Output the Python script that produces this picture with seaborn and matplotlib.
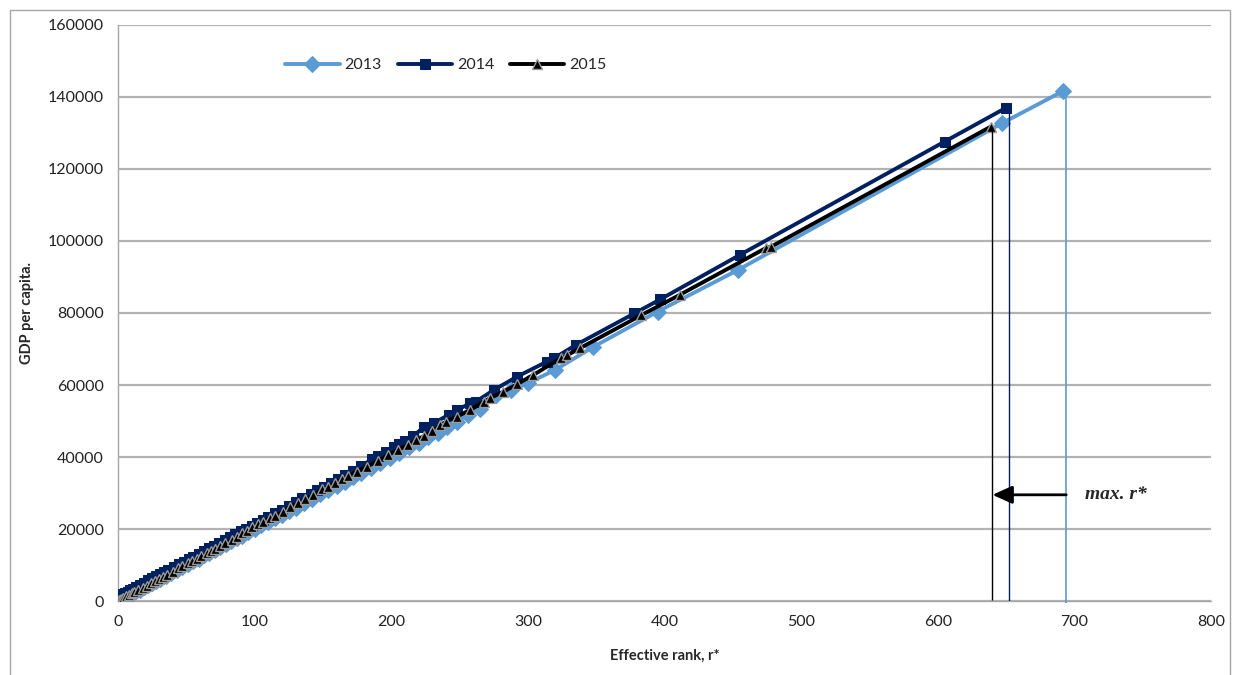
import matplotlib
matplotlib.use("Agg")
import matplotlib.pyplot as plt
from matplotlib.patches import Rectangle
import seaborn as sns
import pandas as pd

# Effective rank r* and GDP per capita, by year
r_2013 = [0.5, 2, 4, 6, 8, 10, 13, 16, 19, 22, 25, 28, 31, 35, 39, 43, 47, 51, 55, 59,
          63, 67, 71, 75, 79, 83, 87, 91, 95, 100, 105, 110, 115, 120, 125, 130, 136, 142,
          148, 154, 160, 166, 172, 178, 185, 192, 199, 206, 213, 220, 227, 234, 241, 248,
          256, 265, 277, 288, 300, 320, 348, 395, 454, 647, 692]
gdp_2013 = [150, 420, 780, 1250, 1600, 1950, 2650, 3150, 3850, 4350, 5050, 5550, 6250, 6950,
            7850, 8550, 9450, 10150, 11050, 11750, 12650, 13350, 14250, 14950, 15850, 16550,
            17450, 18150, 19050, 19950, 21050, 21950, 23050, 23950, 25050, 25950, 27250,
            28350, 29650, 30750, 32050, 33150, 34450, 35550, 37050, 38350, 39850, 41150,
            42650, 43950, 45450, 46750, 48250, 49800, 51700, 53400, 57200, 58600, 60500,
            64200, 70600, 80400, 92000, 132700, 141700]

r_2014 = [0.5, 2, 3.5, 5, 7, 9, 11, 13, 16, 19, 22, 25, 28, 31, 34, 37, 41, 45, 48, 52, 55,
          59, 63, 67, 70, 74, 78, 82, 86, 90, 94, 98, 102, 106, 110, 115, 120, 125, 130, 135,
          141, 146, 151, 156, 161, 166, 172, 178, 186, 190, 196, 202, 206, 210, 216, 224,
          231, 242, 248, 258, 262, 275, 292, 314, 319, 335, 378, 397, 455, 605, 650]
gdp_2014 = [1200, 1500, 1900, 2200, 2600, 3050, 3400, 3900, 4500, 5100, 5750, 6300, 6900,
            7550, 8100, 8700, 9500, 10300, 10950, 11700, 12300, 13100, 13950, 14700, 15300,
            16100, 16950, 17700, 18500, 19350, 20100, 20900, 21700, 22600, 23400, 24400,
            25400, 26500, 27500, 28500, 29800, 30800, 31800, 32900, 33900, 35000, 36200,
            37500, 39400, 40200, 41300, 42700, 43600, 44400, 45700, 48400, 49400, 51700,
            53100, 54900, 55400, 58600, 62300, 66500, 67400, 71100, 79900, 83800, 96100,
            127600, 137000]

r_2015 = [0.5, 2, 4, 6, 8, 10, 12, 15, 18, 21, 24, 27, 30, 33, 36, 40, 44, 47, 51, 54, 57.5,
          61, 65, 68, 71, 75, 78.3, 83.2, 86.9, 90.5, 94.2, 97.9, 102.7, 106.4, 111.3,
          114.9, 121, 125.9, 132, 136.9, 143, 149.1, 154, 158.9, 163.7, 168.6, 174.7, 182,
          190, 198, 205, 212, 218, 224, 230, 236, 240, 248, 258, 268, 272, 282, 292, 304,
          324, 329, 338, 383, 411, 474, 478, 639]
gdp_2015 = [300, 600, 900, 1300, 1700, 2100, 2500, 3100, 3700, 4300, 4900, 5500, 6100, 6700,
            7300, 8100, 9100, 9700, 10500, 11100, 11600, 12400, 13200, 13800, 14400, 15200,
            16000, 16900, 17900, 18800, 19500, 20500, 21400, 22000, 23000, 23600, 24800,
            26200, 27100, 28200, 29400, 31000, 31800, 32900, 33800, 34700, 35900, 37300,
            38800, 40600, 42000, 43300, 44600, 45800, 47100, 48900, 49800, 51200, 53100,
            55400, 56300, 58100, 60200, 62800, 67400, 68300, 70200, 79400, 85000, 98000,
            98400, 131800]

# largest effective rank per year (drop-line positions)
max_r = [694, 652, 640]

years = ["2013", "2014", "2015"]
x_ticks = [0, 100, 200, 300, 400, 500, 600, 700, 800]
y_ticks = [0, 20000, 40000, 60000, 80000, 100000, 120000, 140000, 160000]

c2013 = "#5B9BD5"
c2014 = "#002060"
c2015 = "#000000"

sns.set_theme(style="white")
plt.rcParams["font.family"] = ["Lato", "DejaVu Sans"]

fig = plt.figure(figsize=(12.35, 6.75), dpi=100)
ax = fig.add_axes([0.0955, 0.1096, 0.8851, 0.8534])

ax.yaxis.grid(True, color="#B3B3B3", linewidth=1.6)
ax.set_axisbelow(True)

df13 = pd.DataFrame({"r": r_2013, "g": gdp_2013})
df14 = pd.DataFrame({"r": r_2014, "g": gdp_2014})
df15 = pd.DataFrame({"r": r_2015, "g": gdp_2015})

sns.lineplot(data=df13, x="r", y="g", ax=ax, sort=False, estimator=None, color=c2013,
             linewidth=2.8, marker="D", markersize=8, markeredgecolor=c2013,
             label=years[0], zorder=3)
sns.lineplot(data=df14, x="r", y="g", ax=ax, sort=False, estimator=None, color=c2014,
             linewidth=2.8, marker="s", markersize=7.5, markeredgecolor=c2014,
             label=years[1], zorder=4)
sns.lineplot(data=df15, x="r", y="g", ax=ax, sort=False, estimator=None, color=c2015,
             linewidth=2.8, marker="^", markersize=7.5, markeredgecolor="#9A9A9A",
             markeredgewidth=1.0, label=years[2], zorder=5)

# drop lines from the largest effective rank of each year
ax.vlines(max_r[2], 300, gdp_2015[-1], color=c2015, linewidth=1.0, zorder=6)
ax.vlines(max_r[1], 0, gdp_2014[-1], color=c2014, linewidth=1.0, zorder=6)
ax.vlines(max_r[0], -600, gdp_2013[-1], color=c2013, linewidth=1.2, zorder=6,
          clip_on=False)

ax.annotate("", xy=(max_r[2], 29500), xytext=(max_r[0], 29500),
            arrowprops=dict(arrowstyle="-|>,head_length=1.0,head_width=0.45",
                            color="black", linewidth=2.0, shrinkA=0, shrinkB=0),
            zorder=7)
ax.text(708, 29500, "max. r*", fontsize=14, fontweight="bold", fontstyle="italic",
        family=["Liberation Serif", "DejaVu Serif"], va="center", ha="left")

ax.set_xlim(0, 800)
ax.set_ylim(0, 160000)
ax.set_xticks(x_ticks)
ax.set_yticks(y_ticks)
ax.set_xticklabels([str(v) for v in x_ticks], fontsize=11.5)
ax.set_yticklabels([str(v) for v in y_ticks], fontsize=11.5)
ax.tick_params(axis="both", which="major", length=6, width=1, color="#A6A6A6",
               direction="out", pad=4, labelcolor="#222222")

for side in ["top", "right"]:
    ax.spines[side].set_visible(False)
for side in ["left", "bottom"]:
    ax.spines[side].set_color("#A6A6A6")
    ax.spines[side].set_linewidth(1.0)

ax.set_xlabel("Effective rank, r*", fontsize=10.5, fontweight="bold", labelpad=14)
ax.set_ylabel("GDP per capita.", fontsize=10.5, fontweight="bold", labelpad=10)

leg = ax.legend(loc="center", bbox_to_anchor=(0.30, 0.93), ncol=3, frameon=False,
                fontsize=11.5, handlelength=3.4, columnspacing=1.0, handletextpad=0.3)

# outer chart frame
fig.patches.append(Rectangle((10 / 1235, -0.01), 1220 / 1235, 665 / 675 + 0.01,
                             transform=fig.transFigure, fill=False,
                             edgecolor="#A6A6A6", linewidth=1.0))

fig.savefig("out.png", dpi=100)
